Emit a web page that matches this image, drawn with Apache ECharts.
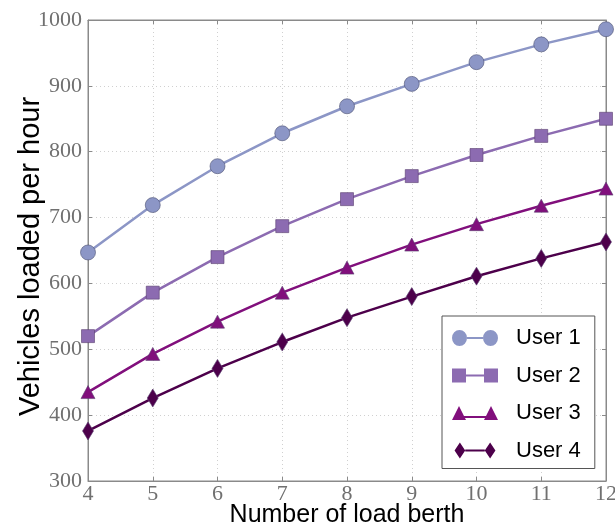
<!DOCTYPE html>
<html>
<head>
<meta charset="utf-8">
<script src="https://cdn.jsdelivr.net/npm/echarts@6/dist/echarts.min.js"></script>
<style>html,body{margin:0;padding:0;background:#fff;}#c{width:615px;height:527px;}</style>
</head>
<body>
<div id="c"></div>
<script>
const berths = [4, 5, 6, 7, 8, 9, 10, 11, 12];
const user1 = [647, 719, 778, 828, 869, 903, 936, 963, 986];
const user2 = [520, 586, 640, 687, 728, 763, 795, 824, 850];
const user3 = [435, 493, 542, 586, 624, 659, 690, 718, 744];
const user4 = [376, 426, 471, 511, 548, 580, 611, 638, 663];
const seriesNames = ['User 1', 'User 2', 'User 3', 'User 4'];
const colors = ['#8c96c6', '#8c6bb1', '#810f7c', '#4d004b'];
const xTicks = { min: 4, max: 12, interval: 1 };
const yTicks = { min: 300, max: 1000, interval: 100 };

const pairs = v => berths.map((b, i) => [b, v[i]]);
const iconCircle = 'path://M0,8 A7.5,8 0 1,0 15,8 A7.5,8 0 1,0 0,8 Z M15,7 L31,7 L31,9 L15,9 Z M31,8 A7.5,8 0 1,0 46,8 A7.5,8 0 1,0 31,8 Z';
const iconRect = 'path://M0,1 L14,1 L14,15 L0,15 Z M14,7 L32,7 L32,9 L14,9 Z M32,1 L46,1 L46,15 L32,15 Z';
const iconTri = 'path://M7,0 L14,14 L0,14 Z M12,10 L34,10 L34,12 L12,12 Z M39,0 L46,14 L32,14 Z';
const iconDia = 'path://M6,0 L12,9 L6,18 L0,9 Z M12,8 L34,8 L34,10 L12,10 Z M40,0 L46,9 L40,18 L34,9 Z';

const symbols = ['circle', 'rect', 'triangle', 'diamond'];
const sizes = [15, 13, [14, 13], [11, 18]];
const data = [user1, user2, user3, user4];

const tickFont = { fontFamily: 'Liberation Serif', fontSize: 22, color: '#707070', formatter: v => String(v) };

const chart = echarts.init(document.getElementById('c'), null, { renderer: 'canvas' });
chart.setOption({
  animation: false,
  backgroundColor: '#fff',
  grid: { left: 88, right: 9, top: 20, bottom: 46, show: true, borderColor: '#8a8a8a', borderWidth: 1, containLabel: false, outerBoundsMode: 'none' },
  xAxis: [{
    type: 'value', min: xTicks.min, max: xTicks.max, interval: xTicks.interval,
    name: 'Number of load berth', nameLocation: 'middle', nameGap: 22, nameMoveOverlap: false,
    nameTextStyle: { fontFamily: 'Liberation Sans', fontSize: 25, color: '#000' },
    axisLine: { show: true, lineStyle: { color: '#8a8a8a', width: 1 } },
    axisTick: { show: true, inside: true, length: 4, lineStyle: { color: '#8a8a8a' } },
    axisLabel: Object.assign({ margin: 2 }, tickFont),
    splitLine: { show: true, lineStyle: { type: [1, 3], color: '#d0d0d0', width: 1 } }
  }, {
    type: 'value', position: 'top', min: xTicks.min, max: xTicks.max, interval: xTicks.interval,
    axisLine: { show: true, lineStyle: { color: '#8a8a8a' } },
    axisTick: { show: true, inside: true, length: 4, lineStyle: { color: '#8a8a8a' } },
    axisLabel: { show: false }, splitLine: { show: false }
  }],
  yAxis: [{
    type: 'value', min: yTicks.min, max: yTicks.max, interval: yTicks.interval,
    name: 'Vehicles loaded per hour', nameLocation: 'middle', nameGap: 43, nameMoveOverlap: false,
    nameTextStyle: { fontFamily: 'Liberation Sans', fontSize: 29, color: '#000', padding: [0, 12, 0, 0] },
    axisLine: { show: true, lineStyle: { color: '#8a8a8a', width: 1 } },
    axisTick: { show: true, inside: true, length: 4, lineStyle: { color: '#8a8a8a' } },
    axisLabel: Object.assign({ margin: 6 }, tickFont),
    splitLine: { show: true, lineStyle: { type: [1, 3], color: '#d0d0d0', width: 1 } }
  }, {
    type: 'value', position: 'right', min: yTicks.min, max: yTicks.max, interval: yTicks.interval,
    axisLine: { show: true, lineStyle: { color: '#8a8a8a' } },
    axisTick: { show: true, inside: true, length: 4, lineStyle: { color: '#8a8a8a' } },
    axisLabel: { show: false }, splitLine: { show: false }
  }],
  legend: {
    orient: 'vertical', left: 442, top: 316,
    padding: [11, 14, 7, 10],
    itemWidth: 46, itemHeight: 16, itemGap: 15.5,
    backgroundColor: '#fff', borderColor: '#555', borderWidth: 1, borderRadius: 0,
    itemStyle: { borderWidth: 0 },
    textStyle: { fontFamily: 'Liberation Sans', fontSize: 22, color: '#000', lineHeight: 22, padding: [0, 0, 0, 13] },
    data: [
      { name: seriesNames[0], icon: iconCircle, itemStyle: { borderWidth: 0 } },
      { name: seriesNames[1], icon: iconRect, itemStyle: { borderWidth: 0 } },
      { name: seriesNames[2], icon: iconTri, itemStyle: { borderWidth: 0 } },
      { name: seriesNames[3], icon: iconDia, itemStyle: { borderWidth: 0 } }
    ]
  },
  series: data.map((v, i) => ({
    name: seriesNames[i], type: 'line', data: pairs(v),
    symbol: symbols[i], symbolSize: sizes[i], showSymbol: true,
    lineStyle: { color: colors[i], width: 2.5 },
    itemStyle: { color: colors[i], borderColor: i === 0 ? '#4a4f70' : '#5a4070', borderWidth: 0.6, opacity: 1 },
    z: 2 + i
  }))
});
</script>
</body>
</html>
